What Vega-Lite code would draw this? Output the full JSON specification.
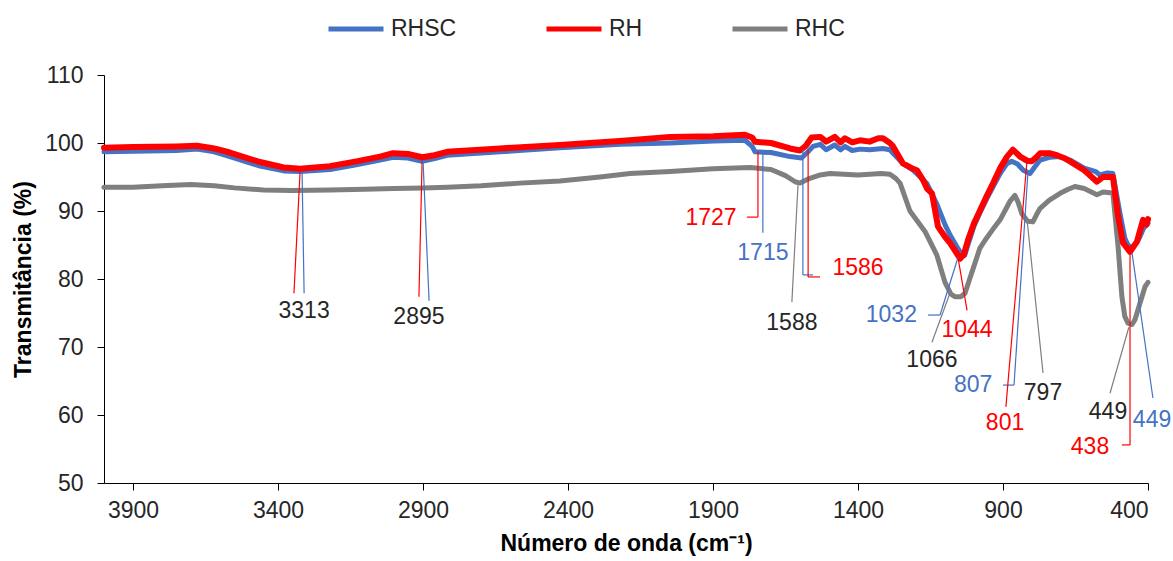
{
  "$schema": "https://vega.github.io/schema/vega-lite/v6.json",
  "width": 1044,
  "height": 408,
  "autosize": "none",
  "padding": {"left": 104, "top": 75, "right": 25, "bottom": 78},
  "background": "white",
  "config": {
    "view": {"stroke": null},
    "font": "Liberation Sans",
    "axis": {"grid": false, "domainColor": "#000", "tickColor": "#000", "domainWidth": 1, "tickWidth": 1, "tickSize": 7, "labelFont": "Liberation Sans", "labelFontSize": 23, "labelColor": "#262626", "titleFont": "Liberation Sans", "titleFontSize": 23, "titleFontWeight": "bold", "titleColor": "#000"},
    "legend": {"orient": "none", "legendX": 222, "legendY": -76, "direction": "horizontal", "symbolType": "stroke", "symbolSize": 3025, "symbolStrokeWidth": 5, "labelFont": "Liberation Sans", "labelFontSize": 23, "labelColor": "#262626", "labelOffset": 5, "columnPadding": 79}
  },
  "datasets": {
    "spectra": [
      {"s":"RH","wn":4000,"t":99.3},{"s":"RH","wn":3900,"t":99.4},{"s":"RH","wn":3750,"t":99.5},{"s":"RH","wn":3679,"t":99.6},{"s":"RH","wn":3620,"t":99.2},{"s":"RH","wn":3566,"t":98.6},{"s":"RH","wn":3462,"t":97.2},{"s":"RH","wn":3380,"t":96.4},{"s":"RH","wn":3324,"t":96.2},{"s":"RH","wn":3221,"t":96.6},{"s":"RH","wn":3130,"t":97.3},{"s":"RH","wn":3048,"t":98.0},{"s":"RH","wn":3003,"t":98.5},{"s":"RH","wn":2952,"t":98.4},{"s":"RH","wn":2903,"t":97.9},{"s":"RH","wn":2860,"t":98.2},{"s":"RH","wn":2817,"t":98.7},{"s":"RH","wn":2634,"t":99.2},{"s":"RH","wn":2428,"t":99.7},{"s":"RH","wn":2221,"t":100.3},{"s":"RH","wn":2048,"t":100.9},{"s":"RH","wn":1900,"t":101.0},{"s":"RH","wn":1790,"t":101.2},{"s":"RH","wn":1765,"t":100.8},{"s":"RH","wn":1755,"t":100.2},{"s":"RH","wn":1700,"t":100.0},{"s":"RH","wn":1634,"t":99.2},{"s":"RH","wn":1600,"t":98.9},{"s":"RH","wn":1580,"t":99.6},{"s":"RH","wn":1560,"t":100.8},{"s":"RH","wn":1530,"t":100.9},{"s":"RH","wn":1510,"t":100.2},{"s":"RH","wn":1480,"t":100.9},{"s":"RH","wn":1460,"t":100.1},{"s":"RH","wn":1445,"t":100.7},{"s":"RH","wn":1420,"t":100.1},{"s":"RH","wn":1393,"t":100.4},{"s":"RH","wn":1360,"t":100.2},{"s":"RH","wn":1330,"t":100.7},{"s":"RH","wn":1314,"t":100.7},{"s":"RH","wn":1290,"t":100.0},{"s":"RH","wn":1279,"t":99.5},{"s":"RH","wn":1245,"t":97.0},{"s":"RH","wn":1210,"t":96.2},{"s":"RH","wn":1197,"t":96.0},{"s":"RH","wn":1175,"t":94.5},{"s":"RH","wn":1162,"t":93.3},{"s":"RH","wn":1145,"t":92.6},{"s":"RH","wn":1124,"t":87.7},{"s":"RH","wn":1100,"t":86.2},{"s":"RH","wn":1083,"t":85.3},{"s":"RH","wn":1060,"t":83.8},{"s":"RH","wn":1048,"t":83.0},{"s":"RH","wn":1035,"t":83.6},{"s":"RH","wn":1021,"t":85.7},{"s":"RH","wn":1000,"t":88.2},{"s":"RH","wn":979,"t":90.1},{"s":"RH","wn":955,"t":92.3},{"s":"RH","wn":934,"t":94.1},{"s":"RH","wn":910,"t":96.3},{"s":"RH","wn":886,"t":98.0},{"s":"RH","wn":866,"t":99.0},{"s":"RH","wn":850,"t":98.4},{"s":"RH","wn":841,"t":98.0},{"s":"RH","wn":817,"t":97.4},{"s":"RH","wn":801,"t":97.3},{"s":"RH","wn":785,"t":97.9},{"s":"RH","wn":772,"t":98.5},{"s":"RH","wn":740,"t":98.5},{"s":"RH","wn":714,"t":98.2},{"s":"RH","wn":690,"t":97.8},{"s":"RH","wn":669,"t":97.3},{"s":"RH","wn":620,"t":96.0},{"s":"RH","wn":576,"t":94.3},{"s":"RH","wn":555,"t":95.0},{"s":"RH","wn":521,"t":95.0},{"s":"RH","wn":503,"t":89.2},{"s":"RH","wn":486,"t":85.3},{"s":"RH","wn":462,"t":84.0},{"s":"RH","wn":438,"t":85.5},{"s":"RH","wn":425,"t":87.5},{"s":"RH","wn":417,"t":88.7},{"s":"RH","wn":405,"t":88.0},{"s":"RH","wn":400,"t":88.8},
      {"s":"RHSC","wn":4000,"t":98.7},{"s":"RHSC","wn":3900,"t":98.8},{"s":"RHSC","wn":3750,"t":98.9},{"s":"RHSC","wn":3679,"t":99.1},{"s":"RHSC","wn":3620,"t":98.7},{"s":"RHSC","wn":3566,"t":98.0},{"s":"RHSC","wn":3462,"t":96.6},{"s":"RHSC","wn":3380,"t":95.9},{"s":"RHSC","wn":3324,"t":95.8},{"s":"RHSC","wn":3221,"t":96.1},{"s":"RHSC","wn":3130,"t":96.8},{"s":"RHSC","wn":3048,"t":97.5},{"s":"RHSC","wn":3003,"t":97.9},{"s":"RHSC","wn":2952,"t":97.8},{"s":"RHSC","wn":2903,"t":97.3},{"s":"RHSC","wn":2860,"t":97.7},{"s":"RHSC","wn":2817,"t":98.2},{"s":"RHSC","wn":2634,"t":98.7},{"s":"RHSC","wn":2428,"t":99.3},{"s":"RHSC","wn":2221,"t":99.8},{"s":"RHSC","wn":2048,"t":100.0},{"s":"RHSC","wn":1900,"t":100.3},{"s":"RHSC","wn":1790,"t":100.4},{"s":"RHSC","wn":1765,"t":99.5},{"s":"RHSC","wn":1755,"t":98.7},{"s":"RHSC","wn":1700,"t":98.6},{"s":"RHSC","wn":1634,"t":98.0},{"s":"RHSC","wn":1595,"t":97.8},{"s":"RHSC","wn":1575,"t":98.6},{"s":"RHSC","wn":1555,"t":99.5},{"s":"RHSC","wn":1530,"t":99.8},{"s":"RHSC","wn":1510,"t":99.0},{"s":"RHSC","wn":1480,"t":99.7},{"s":"RHSC","wn":1460,"t":99.0},{"s":"RHSC","wn":1445,"t":99.5},{"s":"RHSC","wn":1420,"t":98.9},{"s":"RHSC","wn":1393,"t":99.1},{"s":"RHSC","wn":1360,"t":99.0},{"s":"RHSC","wn":1314,"t":99.2},{"s":"RHSC","wn":1290,"t":99.0},{"s":"RHSC","wn":1279,"t":98.5},{"s":"RHSC","wn":1245,"t":97.0},{"s":"RHSC","wn":1210,"t":96.0},{"s":"RHSC","wn":1180,"t":94.8},{"s":"RHSC","wn":1162,"t":94.0},{"s":"RHSC","wn":1128,"t":91.0},{"s":"RHSC","wn":1100,"t":88.0},{"s":"RHSC","wn":1083,"t":86.5},{"s":"RHSC","wn":1060,"t":84.8},{"s":"RHSC","wn":1045,"t":83.8},{"s":"RHSC","wn":1032,"t":83.5},{"s":"RHSC","wn":1021,"t":85.0},{"s":"RHSC","wn":1000,"t":87.8},{"s":"RHSC","wn":979,"t":89.8},{"s":"RHSC","wn":955,"t":91.9},{"s":"RHSC","wn":934,"t":93.6},{"s":"RHSC","wn":910,"t":95.5},{"s":"RHSC","wn":886,"t":97.0},{"s":"RHSC","wn":870,"t":97.3},{"s":"RHSC","wn":850,"t":96.9},{"s":"RHSC","wn":830,"t":96.0},{"s":"RHSC","wn":807,"t":95.5},{"s":"RHSC","wn":790,"t":96.5},{"s":"RHSC","wn":772,"t":97.5},{"s":"RHSC","wn":740,"t":97.9},{"s":"RHSC","wn":703,"t":98.0},{"s":"RHSC","wn":669,"t":97.5},{"s":"RHSC","wn":620,"t":96.3},{"s":"RHSC","wn":580,"t":95.8},{"s":"RHSC","wn":566,"t":95.3},{"s":"RHSC","wn":540,"t":95.6},{"s":"RHSC","wn":521,"t":95.5},{"s":"RHSC","wn":497,"t":89.7},{"s":"RHSC","wn":480,"t":86.0},{"s":"RHSC","wn":469,"t":85.0},{"s":"RHSC","wn":455,"t":84.5},{"s":"RHSC","wn":438,"t":85.5},{"s":"RHSC","wn":428,"t":86.2},{"s":"RHSC","wn":415,"t":87.5},{"s":"RHSC","wn":400,"t":88.2},
      {"s":"RHC","wn":4000,"t":93.5},{"s":"RHC","wn":3900,"t":93.5},{"s":"RHC","wn":3800,"t":93.7},{"s":"RHC","wn":3700,"t":93.9},{"s":"RHC","wn":3620,"t":93.7},{"s":"RHC","wn":3550,"t":93.4},{"s":"RHC","wn":3450,"t":93.1},{"s":"RHC","wn":3350,"t":93.0},{"s":"RHC","wn":3221,"t":93.1},{"s":"RHC","wn":3100,"t":93.2},{"s":"RHC","wn":3000,"t":93.3},{"s":"RHC","wn":2900,"t":93.4},{"s":"RHC","wn":2817,"t":93.5},{"s":"RHC","wn":2700,"t":93.7},{"s":"RHC","wn":2566,"t":94.1},{"s":"RHC","wn":2428,"t":94.4},{"s":"RHC","wn":2290,"t":95.0},{"s":"RHC","wn":2186,"t":95.5},{"s":"RHC","wn":2048,"t":95.8},{"s":"RHC","wn":1900,"t":96.2},{"s":"RHC","wn":1772,"t":96.4},{"s":"RHC","wn":1700,"t":96.1},{"s":"RHC","wn":1650,"t":95.2},{"s":"RHC","wn":1617,"t":94.3},{"s":"RHC","wn":1600,"t":94.1},{"s":"RHC","wn":1566,"t":94.8},{"s":"RHC","wn":1530,"t":95.3},{"s":"RHC","wn":1497,"t":95.5},{"s":"RHC","wn":1400,"t":95.3},{"s":"RHC","wn":1320,"t":95.5},{"s":"RHC","wn":1290,"t":95.4},{"s":"RHC","wn":1270,"t":94.8},{"s":"RHC","wn":1255,"t":94.1},{"s":"RHC","wn":1221,"t":90.0},{"s":"RHC","wn":1200,"t":88.8},{"s":"RHC","wn":1169,"t":87.0},{"s":"RHC","wn":1128,"t":83.5},{"s":"RHC","wn":1100,"t":79.5},{"s":"RHC","wn":1080,"t":77.8},{"s":"RHC","wn":1066,"t":77.4},{"s":"RHC","wn":1045,"t":77.4},{"s":"RHC","wn":1031,"t":77.9},{"s":"RHC","wn":1015,"t":80.0},{"s":"RHC","wn":997,"t":82.3},{"s":"RHC","wn":980,"t":84.5},{"s":"RHC","wn":962,"t":85.7},{"s":"RHC","wn":935,"t":87.3},{"s":"RHC","wn":910,"t":88.7},{"s":"RHC","wn":890,"t":90.3},{"s":"RHC","wn":875,"t":91.5},{"s":"RHC","wn":859,"t":92.3},{"s":"RHC","wn":848,"t":91.3},{"s":"RHC","wn":835,"t":89.6},{"s":"RHC","wn":815,"t":88.5},{"s":"RHC","wn":797,"t":88.4},{"s":"RHC","wn":785,"t":89.4},{"s":"RHC","wn":772,"t":90.4},{"s":"RHC","wn":740,"t":91.6},{"s":"RHC","wn":703,"t":92.6},{"s":"RHC","wn":675,"t":93.2},{"s":"RHC","wn":652,"t":93.6},{"s":"RHC","wn":620,"t":93.3},{"s":"RHC","wn":576,"t":92.4},{"s":"RHC","wn":555,"t":92.8},{"s":"RHC","wn":530,"t":92.7},{"s":"RHC","wn":521,"t":92.6},{"s":"RHC","wn":503,"t":84.7},{"s":"RHC","wn":490,"t":77.4},{"s":"RHC","wn":480,"t":74.5},{"s":"RHC","wn":469,"t":73.5},{"s":"RHC","wn":455,"t":73.3},{"s":"RHC","wn":445,"t":74.0},{"s":"RHC","wn":428,"t":76.4},{"s":"RHC","wn":410,"t":78.9},{"s":"RHC","wn":400,"t":79.5}
    ],
    "leaders": [
      {"s":"RH","wn":3324,"t":95.7,"wn2":3345,"t2":77.9},
      {"s":"RHSC","wn":3317,"t":95.7,"wn2":3310,"t2":77.9},
      {"s":"RH","wn":2903,"t":97.5,"wn2":2914,"t2":77.4},
      {"s":"RHSC","wn":2900,"t":97.5,"wn2":2879,"t2":76.8},
      {"s":"RH","wn":1745,"t":98.7,"wn2":1745,"t2":89.1},
      {"s":"RH","wn":1783,"t":89.1,"wn2":1745,"t2":89.1},
      {"s":"RHSC","wn":1728,"t":98.5,"wn2":1728,"t2":86.8},
      {"s":"RHSC","wn":1590,"t":99.0,"wn2":1590,"t2":80.6},
      {"s":"RHSC","wn":1590,"t":80.6,"wn2":1555,"t2":80.6},
      {"s":"RH","wn":1572,"t":99.0,"wn2":1572,"t2":80.3},
      {"s":"RH","wn":1572,"t":80.3,"wn2":1531,"t2":80.3},
      {"s":"RHC","wn":1607,"t":93.8,"wn2":1628,"t2":76.6},
      {"s":"RHSC","wn":1159,"t":74.7,"wn2":1117,"t2":74.7},
      {"s":"RHSC","wn":1117,"t":74.7,"wn2":1055,"t2":83.2},
      {"s":"RH","wn":1055,"t":83.1,"wn2":1024,"t2":75.4},
      {"s":"RHC","wn":1083,"t":77.9,"wn2":1145,"t2":70.7},
      {"s":"RHSC","wn":900,"t":64.4,"wn2":862,"t2":64.4},
      {"s":"RHSC","wn":862,"t":64.4,"wn2":814,"t2":95.7},
      {"s":"RH","wn":890,"t":61.2,"wn2":817,"t2":97.5},
      {"s":"RHC","wn":817,"t":88.7,"wn2":762,"t2":66.2},
      {"s":"RHC","wn":466,"t":72.9,"wn2":531,"t2":63.2},
      {"s":"RHSC","wn":455,"t":83.8,"wn2":383,"t2":62.5},
      {"s":"RH","wn":462,"t":83.8,"wn2":462,"t2":55.6},
      {"s":"RH","wn":462,"t":55.6,"wn2":490,"t2":55.6}
    ],
    "labels": [
      {"g":"RH+RHSC","label":"3313","wn":3310,"t":75.3},
      {"g":"RH+RHSC","label":"2895","wn":2914,"t":74.4},
      {"g":"RH","label":"1727","wn":1907,"t":89.0},
      {"g":"RHSC","label":"1715","wn":1728,"t":83.8},
      {"g":"RH","label":"1586","wn":1400,"t":81.6},
      {"g":"RHC","label":"1588","wn":1628,"t":73.5},
      {"g":"RHSC","label":"1032","wn":1285,"t":74.7},
      {"g":"RH","label":"1044","wn":1024,"t":72.5},
      {"g":"RHC","label":"1066","wn":1145,"t":68.1},
      {"g":"RHSC","label":"807","wn":1003,"t":64.4},
      {"g":"RH","label":"801","wn":893,"t":58.8},
      {"g":"RHC","label":"797","wn":762,"t":63.2},
      {"g":"RHC","label":"449","wn":538,"t":60.4},
      {"g":"RHSC","label":"449","wn":386,"t":59.3},
      {"g":"RH","label":"438","wn":600,"t":55.3}
    ]
  },
  "encoding": {
    "x": {"field": "wn", "type": "quantitative", "scale": {"domain": [400, 4000], "reverse": true, "nice": false, "zero": false},
      "axis": {"title": "Número de onda (cm⁻¹)", "values": [3900, 3400, 2900, 2400, 1900, 1400, 900, 400], "format": "d", "labelPadding": 9, "titlePadding": 10}},
    "y": {"field": "t", "type": "quantitative", "scale": {"domain": [50, 110], "nice": false, "zero": false},
      "axis": {"title": "Transmitância (%)", "values": [50, 60, 70, 80, 90, 100, 110], "labelPadding": 14, "titlePadding": 9}}
  },
  "layer": [
    {
      "data": {"name": "spectra"},
      "transform": [{"filter": "datum.s === 'RHC'"}],
      "mark": {"type": "line", "strokeWidth": 5, "strokeJoin": "round", "strokeCap": "round"},
      "encoding": {"color": {"field": "s", "type": "nominal", "scale": {"domain": ["RHSC", "RH", "RHC"], "range": ["#4472C4", "#FF0000", "#7F7F7F"]}, "legend": {"title": null}}}
    },
    {
      "data": {"name": "spectra"},
      "transform": [{"filter": "datum.s === 'RHSC'"}],
      "mark": {"type": "line", "strokeWidth": 5, "strokeJoin": "round", "strokeCap": "round"},
      "encoding": {"color": {"field": "s", "type": "nominal", "scale": {"domain": ["RHSC", "RH", "RHC"], "range": ["#4472C4", "#FF0000", "#7F7F7F"]}, "legend": {"title": null}}}
    },
    {
      "data": {"name": "spectra"},
      "transform": [{"filter": "datum.s === 'RH'"}],
      "mark": {"type": "line", "strokeWidth": 6, "strokeJoin": "round", "strokeCap": "round"},
      "encoding": {"color": {"field": "s", "type": "nominal", "scale": {"domain": ["RHSC", "RH", "RHC"], "range": ["#4472C4", "#FF0000", "#7F7F7F"]}, "legend": {"title": null}}}
    },
    {
      "data": {"name": "leaders"},
      "mark": {"type": "rule", "strokeWidth": 1.2},
      "encoding": {
        "x2": {"field": "wn2"},
        "y2": {"field": "t2"},
        "stroke": {"field": "s", "type": "nominal", "scale": {"domain": ["RHSC", "RH", "RHC"], "range": ["#4472C4", "#FF0000", "#7F7F7F"]}, "legend": null}
      }
    },
    {
      "data": {"name": "labels"},
      "mark": {"type": "text", "fontSize": 23, "font": "Liberation Sans", "align": "center", "baseline": "middle"},
      "encoding": {
        "text": {"field": "label"},
        "fill": {"field": "g", "type": "nominal", "scale": {"domain": ["RHSC", "RH", "RHC", "RH+RHSC"], "range": ["#4472C4", "#FF0000", "#262626", "#262626"]}, "legend": null}
      }
    }
  ]
}
